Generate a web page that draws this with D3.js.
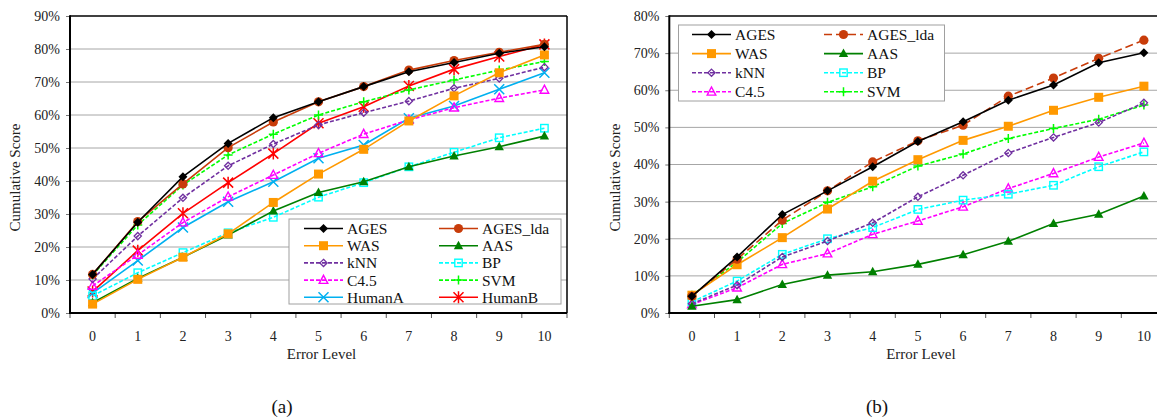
<!DOCTYPE html>
<html>
<head>
<meta charset="utf-8">
<script src="https://cdn.jsdelivr.net/npm/d3@7"></script>
<style>
  html, body { margin: 0; padding: 0; background: #fff; }
  svg { display: block; }
  svg text { font-family: "Liberation Serif", "Times New Roman", serif !important; }
</style>
</head>
<body>
<svg id="chart" width="1157" height="419"></svg>
<script>
// ---------- DATA ----------
const errorLevels = [0, 1, 2, 3, 4, 5, 6, 7, 8, 9, 10];

// Chart (a)
const agesA     = [11.7, 27.5, 41.3, 51.4, 59.2, 64.0, 68.6, 73.1, 75.9, 78.7, 80.7];
const agesLdaA  = [11.7, 27.7, 39.1, 50.1, 57.9, 64.0, 68.6, 73.6, 76.5, 79.0, 81.4];
const wasA      = [2.7, 10.2, 16.9, 24.0, 33.5, 42.1, 49.6, 58.2, 65.8, 72.8, 78.2];
const aasA      = [3.1, 10.5, 16.9, 23.6, 30.9, 36.5, 39.8, 44.3, 47.6, 50.4, 53.6];
const knnA      = [10.3, 23.3, 34.9, 44.6, 51.2, 57.0, 60.7, 64.2, 68.1, 71.1, 74.5];
const bpA       = [5.2, 12.2, 18.3, 24.3, 29.0, 35.1, 39.5, 44.3, 48.7, 53.1, 56.0];
const c45A      = [8.2, 17.6, 27.4, 35.2, 41.8, 48.4, 54.2, 58.5, 62.2, 65.1, 67.6];
const svmA      = [11.5, 26.7, 38.8, 47.9, 54.2, 60.0, 64.0, 67.6, 70.6, 73.6, 76.2];
const humanAA   = [6.0, 15.9, 25.9, 33.7, 39.8, 46.9, 50.9, 59.0, 62.7, 67.8, 72.8];
const humanBA   = [6.5, 18.9, 30.2, 39.5, 48.3, 57.5, 62.5, 68.8, 73.9, 77.7, 81.4];
const yTicksA   = [0, 10, 20, 30, 40, 50, 60, 70, 80, 90];

// Chart (b)
const agesB     = [4.5, 15.1, 26.5, 32.9, 39.4, 46.2, 51.5, 57.3, 61.4, 67.4, 70.1];
const agesLdaB  = [4.5, 14.5, 25.0, 32.9, 40.7, 46.4, 50.6, 58.4, 63.3, 68.6, 73.5];
const wasB      = [4.8, 13.0, 20.3, 28.0, 35.5, 41.3, 46.5, 50.3, 54.6, 58.1, 61.1];
const aasB      = [1.8, 3.6, 7.7, 10.2, 11.1, 13.1, 15.7, 19.3, 24.1, 26.6, 31.5];
const knnB      = [2.5, 7.5, 15.1, 19.4, 24.3, 31.3, 37.1, 43.1, 47.3, 51.3, 56.6];
const bpB       = [3.0, 8.6, 15.8, 20.0, 23.0, 27.9, 30.4, 32.0, 34.4, 39.4, 43.4];
const c45B      = [2.3, 6.8, 13.1, 16.0, 21.2, 24.8, 28.6, 33.5, 37.6, 42.0, 45.8];
const svmB      = [4.8, 13.7, 24.1, 29.8, 34.0, 39.6, 42.8, 47.0, 49.7, 52.2, 56.0];
const yTicksB   = [0, 10, 20, 30, 40, 50, 60, 70, 80];

const xTitle = "Error Level";
const yTitle = "Cumulative Score";

// ---------- STYLES ----------
const styles = {
  "AGES":     {color: "#000000", marker: "diamondFill", dash: null},
  "AGES_lda": {color: "#C83C0A", marker: "circle", dash: null},
  "WAS":      {color: "#FF9900", marker: "squareFill", dash: null},
  "AAS":      {color: "#008000", marker: "triFill", dash: null},
  "kNN":      {color: "#7030A0", marker: "diamondOpen", dash: "4,2"},
  "BP":       {color: "#00FFFF", marker: "squareOpen", dash: "4,2"},
  "C4.5":     {color: "#FF00FF", marker: "triOpen", dash: "4,2"},
  "SVM":      {color: "#00FF00", marker: "plus", dash: "4,2"},
  "HumanA":   {color: "#00B0F0", marker: "cross", dash: null},
  "HumanB":   {color: "#FF0000", marker: "star", dash: null}
};

const svg = d3.select("#chart");

function drawMarker(g, type, x, y, color) {
  switch (type) {
    case "diamondFill":
      g.append("path").attr("d", `M${x},${y-4.5}L${x+4.5},${y}L${x},${y+4.5}L${x-4.5},${y}Z`).attr("fill", color);
      break;
    case "diamondOpen":
      g.append("path").attr("d", `M${x},${y-3.6}L${x+3.6},${y}L${x},${y+3.6}L${x-3.6},${y}Z`)
        .attr("fill", "none").attr("stroke", color).attr("stroke-width", 1.3);
      break;
    case "circle":
      g.append("circle").attr("cx", x).attr("cy", y).attr("r", 4.6).attr("fill", color);
      break;
    case "squareFill":
      g.append("rect").attr("x", x-4.5).attr("y", y-4.5).attr("width", 9).attr("height", 9).attr("fill", color);
      break;
    case "squareOpen":
      g.append("rect").attr("x", x-3.7).attr("y", y-3.7).attr("width", 7.4).attr("height", 7.4)
        .attr("fill", "none").attr("stroke", color).attr("stroke-width", 1.4);
      break;
    case "triFill":
      g.append("path").attr("d", `M${x},${y-5}L${x+4.7},${y+3.5}L${x-4.7},${y+3.5}Z`).attr("fill", color);
      break;
    case "triOpen":
      g.append("path").attr("d", `M${x},${y-4.8}L${x+4.3},${y+3.3}L${x-4.3},${y+3.3}Z`)
        .attr("fill", "none").attr("stroke", color).attr("stroke-width", 1.4);
      break;
    case "plus":
      g.append("path").attr("d", `M${x-4.5},${y}H${x+4.5}M${x},${y-4.5}V${y+4.5}`)
        .attr("stroke", color).attr("stroke-width", 1.5);
      break;
    case "cross":
      g.append("path").attr("d", `M${x-5},${y-5}L${x+5},${y+5}M${x-5},${y+5}L${x+5},${y-5}`)
        .attr("stroke", color).attr("stroke-width", 1.5);
      break;
    case "star":
      g.append("path").attr("d", `M${x-5},${y-5}L${x+5},${y+5}M${x-5},${y+5}L${x+5},${y-5}M${x},${y-6}V${y+6}`)
        .attr("stroke", color).attr("stroke-width", 1.5);
      break;
  }
}

function drawChart(cfg) {
  const {left, right, top, bottom, yMax, yTicks, series, legend, caption, overrides} = cfg;
  const g = svg.append("g");
  const x = d3.scaleBand().domain(errorLevels).range([left, right]);
  const y = d3.scaleLinear().domain([0, yMax]).range([bottom, top]);

  // gridlines
  g.append("g").selectAll("line").data(yTicks.filter(t => t > 0 && t < yMax)).join("line")
    .attr("x1", left).attr("x2", right).attr("y1", d => y(d)).attr("y2", d => y(d))
    .attr("stroke", "#a6a6a6").attr("stroke-width", 1);

  // y axis
  const yAxis = d3.axisLeft(y).tickValues(yTicks).tickFormat(d => d + "%").tickSize(4).tickPadding(6);
  const ya = g.append("g").attr("transform", `translate(${left},0)`).call(yAxis)
    .attr("font-family", null).attr("font-size", null);
  ya.select(".domain").remove();
  ya.selectAll(".tick line").attr("stroke", "#777");
  ya.selectAll(".tick text").style("font-size", "14px").attr("fill", "#222");

  // x axis
  const xAxis = d3.axisBottom(x).tickSize(0).tickPadding(18);
  const xa = g.append("g").attr("transform", `translate(0,${bottom})`).call(xAxis)
    .attr("font-family", null).attr("font-size", null);
  xa.select(".domain").remove();
  xa.selectAll(".tick text").style("font-size", "14px").attr("fill", "#222");
  const bounds = errorLevels.map(d => x(d)).concat([right]);
  g.append("g").selectAll("line").data(bounds).join("line")
    .attr("x1", d => d).attr("x2", d => d).attr("y1", bottom).attr("y2", bottom + 5)
    .attr("stroke", "#555").attr("stroke-width", 1);

  // frame
  g.append("line").attr("x1", left).attr("x2", right).attr("y1", top).attr("y2", top).attr("stroke", "#000").attr("stroke-width", 1.5);
  g.append("line").attr("x1", right).attr("x2", right).attr("y1", top).attr("y2", bottom).attr("stroke", "#000").attr("stroke-width", 1.5);
  g.append("line").attr("x1", left).attr("x2", left).attr("y1", top - 0.75).attr("y2", bottom + 1).attr("stroke", "#000").attr("stroke-width", 2);
  g.append("line").attr("x1", left - 1).attr("x2", right).attr("y1", bottom).attr("y2", bottom).attr("stroke", "#000").attr("stroke-width", 2);

  // titles
  g.append("text").attr("x", (left + right) / 2 + cfg.xTitleShift).attr("y", bottom + 46)
    .attr("text-anchor", "middle").style("font-size", "15px").attr("fill", "#222").text(xTitle);
  g.append("text").attr("transform", `translate(${cfg.yTitleX},${(top + bottom) / 2 + 13}) rotate(-90)`)
    .attr("text-anchor", "middle").style("font-size", "15px").attr("fill", "#222").text(yTitle);

  // series
  const line = d3.line().x((d, i) => x(errorLevels[i]) + x.bandwidth() / 2).y(d => y(d));
  const order = series.slice().reverse();
  order.forEach(s => {
    const st = Object.assign({}, styles[s.name], (overrides || {})[s.name] || {});
    const sg = g.append("g");
    sg.append("path").datum(s.values).attr("d", line).attr("fill", "none")
      .attr("stroke", st.color).attr("stroke-width", st.width || 1.6)
      .attr("stroke-dasharray", st.dash);
    s.values.forEach((v, i) => drawMarker(sg, st.marker, x(errorLevels[i]) + x.bandwidth() / 2, y(v), st.color));
  });

  // legend
  const lg = g.append("g");
  lg.append("rect").attr("x", legend.x).attr("y", legend.y).attr("width", legend.w).attr("height", legend.h)
    .attr("fill", "#fff").attr("stroke", "#a0a0a0").attr("stroke-width", 1);
  series.forEach((s, i) => {
    const st = Object.assign({}, styles[s.name], (overrides || {})[s.name] || {});
    const col = i % 2, row = Math.floor(i / 2);
    const lx = legend.cols[col];
    const ly = legend.rowY0 + row * legend.rowStep;
    lg.append("line").attr("x1", lx).attr("x2", lx + legend.lineLen).attr("y1", ly).attr("y2", ly)
      .attr("stroke", st.color).attr("stroke-width", st.width || 1.6).attr("stroke-dasharray", st.dash);
    drawMarker(lg, st.marker, lx + legend.lineLen / 2, ly, st.color);
    lg.append("text").attr("x", lx + legend.lineLen + 4).attr("y", ly).attr("dy", "0.35em")
      .style("font-size", "15.5px").attr("fill", "#111").text(s.name);
  });

  // caption
  svg.append("text").attr("x", caption.x).attr("y", caption.y).attr("text-anchor", "middle")
    .style("font-size", "19px").attr("fill", "#111").text(caption.text);
}

drawChart({
  left: 70, right: 567, top: 16, bottom: 313, yMax: 90, yTicks: yTicksA,
  xTitleShift: 3, yTitleX: 20,
  series: [
    {name: "AGES", values: agesA}, {name: "AGES_lda", values: agesLdaA},
    {name: "WAS", values: wasA}, {name: "AAS", values: aasA},
    {name: "kNN", values: knnA}, {name: "BP", values: bpA},
    {name: "C4.5", values: c45A}, {name: "SVM", values: svmA},
    {name: "HumanA", values: humanAA}, {name: "HumanB", values: humanBA}
  ],
  legend: {x: 289, y: 219, w: 272, h: 85, cols: [304, 439], lineLen: 39, rowY0: 228.5, rowStep: 17.2},
  caption: {x: 282, y: 413, text: "(a)"}
});

drawChart({
  left: 669.3, right: 1166.5, top: 16, bottom: 313, yMax: 80, yTicks: yTicksB,
  xTitleShift: 3, yTitleX: 620,
  series: [
    {name: "AGES", values: agesB}, {name: "AGES_lda", values: agesLdaB},
    {name: "WAS", values: wasB}, {name: "AAS", values: aasB},
    {name: "kNN", values: knnB}, {name: "BP", values: bpB},
    {name: "C4.5", values: c45B}, {name: "SVM", values: svmB}
  ],
  overrides: {"AGES_lda": {dash: "8,4"}},
  legend: {x: 678.5, y: 25, w: 266, h: 76, cols: [692, 824], lineLen: 39, rowY0: 34.5, rowStep: 19.1},
  caption: {x: 877, y: 413, text: "(b)"}
});
</script>
</body>
</html>
